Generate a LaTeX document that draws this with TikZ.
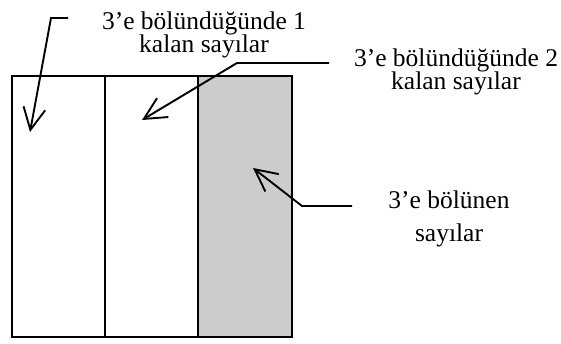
\documentclass[tikz,border=0pt]{standalone}
\usepackage{fontspec}
\setmainfont{Liberation Serif}
\usetikzlibrary{positioning, arrows.meta}

\begin{document}
\begin{tikzpicture}[
  x=1pt, y=-1pt,
  label/.style={align=center, inner sep=0pt, font=\fontsize{25.5}{23.5}\selectfont},
  column/.style={draw, line width=2.3pt, minimum width=93pt, minimum height=261pt, inner sep=0pt, outer sep=0pt, anchor=north west},
  arr/.style={-{Straight Barb[length=22pt, width=22pt]}, line width=1.9pt},
]
  \useasboundingbox (0,0) rectangle (561,343);
  \node[column] (kalanbir) at (12,76) {};
  \node[column, right=0pt of kalanbir] (kalaniki) {};
  \node[column, fill=black!20, minimum width=94pt, right=0pt of kalaniki] (bolunen) {};
  \node[label] (lbir) at (204,35) {3’e bölündüğünde 1\\kalan sayılar};
  \node[label] (liki) at (456,72) {3’e bölündüğünde 2\\kalan sayılar};
  \node[label, font=\fontsize{25.5}{33}\selectfont] (lbol) at (449,219) {3’e bölünen\\sayılar};
  % elbows and tips of the pointers
  \coordinate (a1) at (68,18);  \coordinate (b1) at (51,18);  \coordinate (t1) at (30,132);
  \coordinate (a2) at (329,63); \coordinate (b2) at (237,63); \coordinate (t2) at (142,120);
  \coordinate (a3) at (352,206); \coordinate (b3) at (302,206); \coordinate (t3) at (253,168);
  \draw[arr] (a1) -- (b1) -- (t1);
  \draw[arr] (a2) -- (b2) -- (t2);
  \draw[arr] (a3) -- (b3) -- (t3);
\end{tikzpicture}
\end{document}
